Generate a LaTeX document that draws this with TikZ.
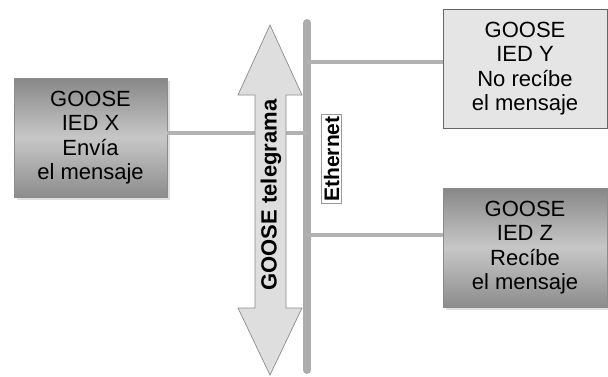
\documentclass[tikz,border=0pt]{standalone}
\usepackage{fontspec}
\setmainfont{Liberation Sans}
\begin{document}
\begin{tikzpicture}[x=1pt,y=-1pt,
  boxtext/.style={align=center,font=\fontsize{22}{24.5}\selectfont,text=black},
  shadedbox/.style={boxtext,minimum width=153pt,minimum height=119pt,inner sep=0pt,
    top color=black!47,bottom color=black!45,middle color=black!22,draw=black!45,line width=0.5pt},
  plainbox/.style={boxtext,minimum width=164pt,minimum height=119pt,inner sep=0pt,
    fill=black!10,draw=black!60,line width=0.9pt},
  link/.style={draw=black!30,line width=4pt},
  bus/.style={draw=black!32,line width=8pt,line cap=round}]
\useasboundingbox (0,0) rectangle (608,376);
\fill[white] (0,0) rectangle (608,376);
% shadows
\fill[black!12] (17,81) rectangle (170,200);
\fill[black!12] (446,191) rectangle (611,310);
% ethernet bus
\coordinate (bt) at (307,23);
\coordinate (bb) at (307,370);
\draw[bus] (bt) -- (bb);
% boxes
\node[shadedbox] (X) at (90.5,137.5) {GOOSE\\IED X\\Envía\\el mensaje};
\node[plainbox] (Y) at (525,68.5) {GOOSE\\IED Y\\No recíbe\\el mensaje};
\node[shadedbox,minimum width=164pt] (Z) at (525,247.5) {GOOSE\\IED Z\\Recíbe\\el mensaje};
% taps on the bus
\coordinate (tx) at (307,133);
\coordinate (ty) at (307,62);
\coordinate (tz) at (307,235);
\draw[link] (X.east |- tx) -- (tx);
\draw[link] (ty) -- (Y.west |- ty);
\draw[link] (tz) -- (Z.west |- tz);
% double arrow
\draw[fill=black!13,draw=black!45,line width=0.7pt]
  (270,25) -- (302,95) -- (286,95) -- (286,308) -- (302,308) -- (270,375)
  -- (238,308) -- (255,308) -- (255,95) -- (238,95) -- cycle;
\node[rotate=90,font=\bfseries\fontsize{22}{24}\selectfont,inner sep=0pt] (gt) at (271,195) {GOOSE telegrama};
\node[rotate=90,font=\bfseries\fontsize{21}{24}\selectfont,fill=white,draw=black!40,line width=0.6pt,inner sep=2pt] (eth) at (331.5,159) {Ethernet};
\end{tikzpicture}
\end{document}
